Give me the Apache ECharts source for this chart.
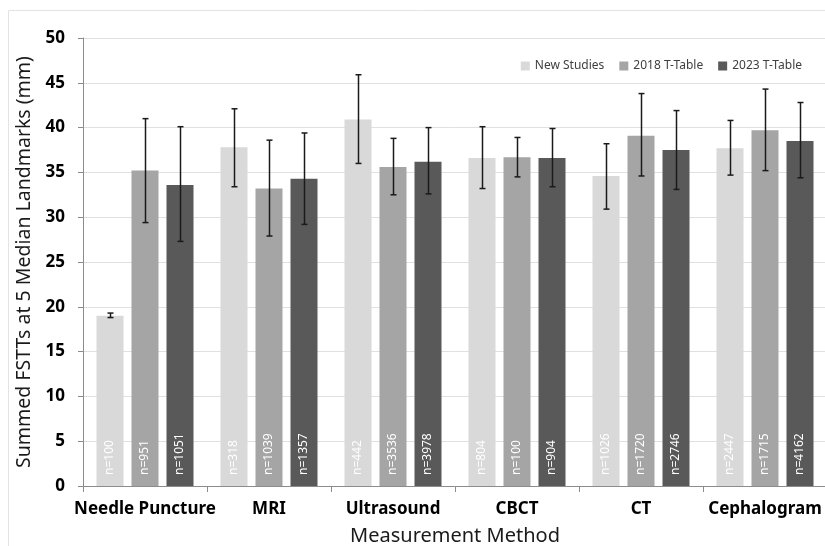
<!DOCTYPE html>
<html>
<head>
<meta charset="utf-8">
<script src="https://cdn.jsdelivr.net/npm/echarts@6/dist/echarts.min.js"></script>
<style>
  html, body { margin: 0; padding: 0; background: #fff; }
  #main { width: 825px; height: 546px; }
</style>
</head>
<body>
<div id="main"></div>
<script>
  // categories
  var methods = ['Needle Puncture', 'MRI', 'Ultrasound', 'CBCT', 'CT', 'Cephalogram']
  var seriesNames = ['New Studies', '2018 T-Table', '2023 T-Table']
  var yTicks = [0, 5, 10, 15, 20, 25, 30, 35, 40, 45, 50]

  // bar values (mm)
  var newStudies = [19.0, 37.8, 40.9, 36.6, 34.6, 37.7]
  var table2018 = [35.2, 33.2, 35.6, 36.7, 39.1, 39.7]
  var table2023 = [33.6, 34.3, 36.2, 36.6, 37.5, 38.5]

  // error bar ends
  var newLow = [18.8, 33.4, 36.0, 33.2, 30.9, 34.7]
  var newHigh = [19.3, 42.1, 45.9, 40.1, 38.2, 40.8]
  var low2018 = [29.4, 27.9, 32.5, 34.5, 34.6, 35.2]
  var high2018 = [41.0, 38.6, 38.8, 38.9, 43.8, 44.3]
  var low2023 = [27.3, 29.2, 32.6, 33.4, 33.1, 34.4]
  var high2023 = [40.1, 39.4, 40.0, 39.9, 41.9, 42.8]

  // sample sizes
  var nNew = [100, 318, 442, 804, 1026, 2447]
  var n2018 = [951, 1039, 3536, 100, 1720, 1715]
  var n2023 = [1051, 1357, 3978, 904, 2746, 4162]

  var colors = ['#d9d9d9', '#a5a5a5', '#595959']
  var barW = 27
  var barGapPx = 8

  var values = [newStudies, table2018, table2023]
  var lows = [newLow, low2018, low2023]
  var highs = [newHigh, high2018, high2023]
  var counts = [nNew, n2018, n2023]

  var myChart = echarts.init(document.getElementById('main'))

  var series = []
  values.forEach(function (vals, i) {
    series.push({
      name: seriesNames[i],
      type: 'bar',
      barWidth: barW,
      barGap: (barGapPx / barW * 100) + '%',
      itemStyle: { color: colors[i] },
      data: vals.map(function (v, j) { return { value: v, n: counts[i][j] } }),
      label: {
        show: true,
        position: 'insideBottom',
        rotate: 90,
        align: 'left',
        verticalAlign: 'middle',
        distance: 11,
        color: '#ffffff',
        fontFamily: 'Noto Sans',
        fontSize: 12,
        formatter: function (p) { return 'n=' + p.data.n }
      }
    })
  })

  // error bars, one custom series per bar series
  values.forEach(function (vals, i) {
    var offset = (i - 1) * (barW + barGapPx)
    series.push({
      type: 'custom',
      name: seriesNames[i] + ' err',
      z: 10,
      silent: true,
      data: methods.map(function (m, j) { return [j, lows[i][j], highs[i][j]] }),
      renderItem: function (params, api) {
        var lo = api.coord([api.value(0), api.value(1)])
        var hi = api.coord([api.value(0), api.value(2)])
        var x = Math.round(lo[0] + offset) + 0.5
        var cap = 3
        var st = { stroke: '#1a1a1a', lineWidth: 1.5 }
        return {
          type: 'group',
          children: [
            { type: 'line', shape: { x1: x, y1: lo[1], x2: x, y2: hi[1] }, style: st },
            { type: 'line', shape: { x1: x - cap, y1: lo[1], x2: x + cap, y2: lo[1] }, style: st },
            { type: 'line', shape: { x1: x - cap, y1: hi[1], x2: x + cap, y2: hi[1] }, style: st }
          ]
        }
      }
    })
  })

  var option = {
    animation: false,
    textStyle: { fontFamily: 'Noto Sans' },
    graphic: [{
      type: 'rect',
      shape: { x: 8.5, y: 10.5, width: 900, height: 600 },
      style: { fill: 'none', stroke: '#e3e3e3', lineWidth: 1 },
      z: -10
    }],
    legend: {
      data: seriesNames,
      top: 55,
      right: 18,
      itemWidth: 9,
      itemHeight: 9,
      itemGap: 15,
      icon: 'rect',
      textStyle: { fontSize: 12, color: '#404040', fontFamily: 'Noto Sans' }
    },
    grid: { left: 83, top: 38, width: 744, height: 448, containLabel: false, outerBoundsMode: 'none' },
    xAxis: {
      type: 'category',
      data: methods,
      name: 'Measurement Method',
      nameLocation: 'middle',
      nameGap: 40,
      nameTextStyle: { fontSize: 20, color: '#1a1a1a' },
      axisLine: { lineStyle: { color: '#8c8c8c', width: 1 } },
      axisTick: { show: true, length: 6, lineStyle: { color: '#8c8c8c' } },
      axisLabel: { fontSize: 17, fontWeight: 'bold', color: '#000', margin: 15, interval: 0 }
    },
    yAxis: {
      type: 'value',
      min: yTicks[0],
      max: yTicks[yTicks.length - 1],
      interval: 5,
      name: 'Summed FSTTs at 5 Median Landmarks (mm)',
      nameLocation: 'middle',
      nameGap: 47,
      nameTextStyle: { fontSize: 19.5, color: '#1a1a1a' },
      axisLine: { show: true, lineStyle: { color: '#8c8c8c', width: 1 } },
      axisTick: { show: true, length: 5, lineStyle: { color: '#8c8c8c' } },
      axisLabel: { fontSize: 17, fontWeight: 'bold', color: '#000', margin: 18 },
      splitLine: { lineStyle: { color: '#e0e0e0', width: 1 } }
    },
    series: series
  }

  myChart.setOption(option)
</script>
</body>
</html>
